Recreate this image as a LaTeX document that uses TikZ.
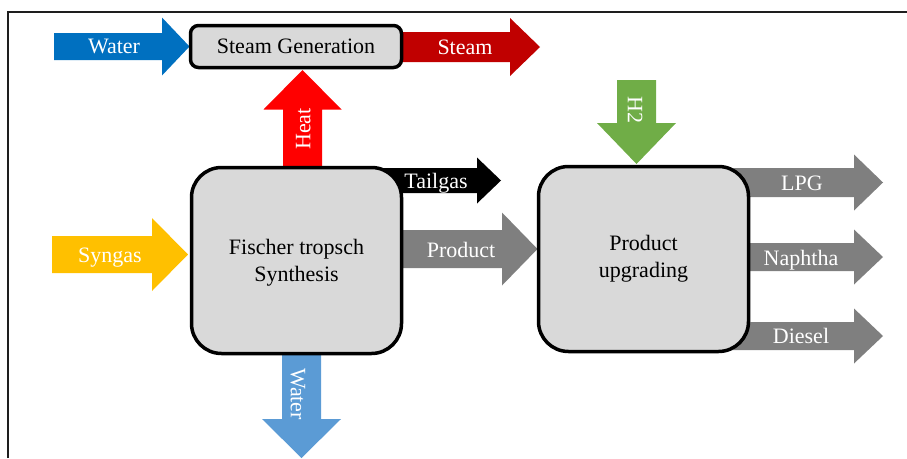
\documentclass[tikz,border=0pt]{standalone}
\usepackage{fontspec}
\setmainfont{Liberation Serif}
\newfontfamily\boxfont{Liberation Serif}[Scale=1.0]
\definecolor{cblue}{HTML}{0070C0}
\definecolor{cdred}{HTML}{C00000}
\definecolor{cred}{HTML}{FF0000}
\definecolor{cyellow}{HTML}{FFC000}
\definecolor{cgray}{HTML}{7F7F7F}
\definecolor{cgreen}{HTML}{70AD47}
\definecolor{clblue}{HTML}{5B9BD5}
\definecolor{boxgray}{HTML}{D9D9D9}
\definecolor{framegray}{HTML}{1E1E1E}
% horizontal block arrow: color, yc, x start, x head base, x tip, shaft half width, head half width
\newcommand\harrow[7]{\fill[#1] (#3,#2-#6) -- (#4,#2-#6) -- (#4,#2-#7) -- (#5,#2) -- (#4,#2+#7) -- (#4,#2+#6) -- (#3,#2+#6) -- cycle;}
% vertical block arrow: color, xc, y start, y head base, y tip, shaft half width, head half width
\newcommand\varrow[7]{\fill[#1] (#2-#6,#3) -- (#2-#6,#4) -- (#2-#7,#4) -- (#2,#5) -- (#2+#7,#4) -- (#2+#6,#4) -- (#2+#6,#3) -- cycle;}
\begin{document}
\begin{tikzpicture}[x=1pt,y=-1pt,
  font=\fontsize{22}{27}\selectfont,
  box/.style={draw=black, line width=3.5pt, fill=boxgray, inner sep=0pt},
  boxtext/.style={align=center, inner sep=0pt, text=black, font=\boxfont\fontsize{22}{27}\selectfont},
  lbl/.style={text=white, inner sep=0pt, text height=14.5pt, text depth=0pt}]
\useasboundingbox (0,0) rectangle (907,458);
\draw[line width=2pt, framegray] (8,458) -- (8,11.5) -- (907,11.5);

% block arrows (behind boxes)
\harrow{cblue}{46.5}{54}{162}{189.5}{13.5}{29}
\harrow{cdred}{47}{400}{510}{540}{15}{29}
\varrow{cred}{302.5}{175}{109.5}{70}{19.5}{39}
\harrow{cyellow}{254.5}{52}{152}{188}{18.5}{36.5}
\harrow{black}{180.5}{375}{477}{501}{12.5}{23}
\harrow{cgray}{249}{400}{502}{537.5}{19}{36.5}
\varrow{cgreen}{636.5}{80}{123}{164}{19.5}{39.5}
\harrow{cgray}{182.5}{725}{854}{883}{14.5}{28}
\harrow{cgray}{257}{725}{854}{883}{14}{27.5}
\harrow{cgray}{336}{725}{854}{883}{14}{27.5}
\varrow{clblue}{301.5}{340}{419}{458}{19.5}{39.5}

% boxes
\node[box, rounded corners=8pt, minimum width=211pt, minimum height=42pt] (sg) at (296,46.5) {};
\node[box, rounded corners=30pt, minimum width=210pt, minimum height=186pt] (ft) at (296.5,260.5) {};
\node[box, rounded corners=30pt, minimum width=210pt, minimum height=185pt] (pu) at (643.5,259) {};

% box texts
\node[boxtext] (sgText) at (sg.center) {Steam Generation};
\node[boxtext] (ftText) at ([yshift=-2pt]ft.center) {Fischer tropsch\\Synthesis};
\node[boxtext] (puText) at (pu.center) {Product\\upgrading};

% arrow labels
\node[lbl] (tWaterIn) at (114,46.5) {Water};
\node[lbl] (tSteam) at (465,47) {Steam};
\node[lbl, rotate=90] (tHeat) at (303,129) {Heat};
\node[lbl] (tSyngas) at (110,255) {Syngas};
\node[lbl] (tTailgas) at (436,181) {Tailgas};
\node[lbl] (tProduct) at (461,250) {Product};
\node[lbl, rotate=-90] (tH2) at (635,110) {H2};
\node[lbl] (tLPG) at (802,183) {LPG};
\node[lbl] (tNaphtha) at (801,258) {Naphtha};
\node[lbl] (tDiesel) at (801,336) {Diesel};
\node[lbl, rotate=-90] (tWaterOut) at (298,394) {Water};
\end{tikzpicture}
\end{document}
